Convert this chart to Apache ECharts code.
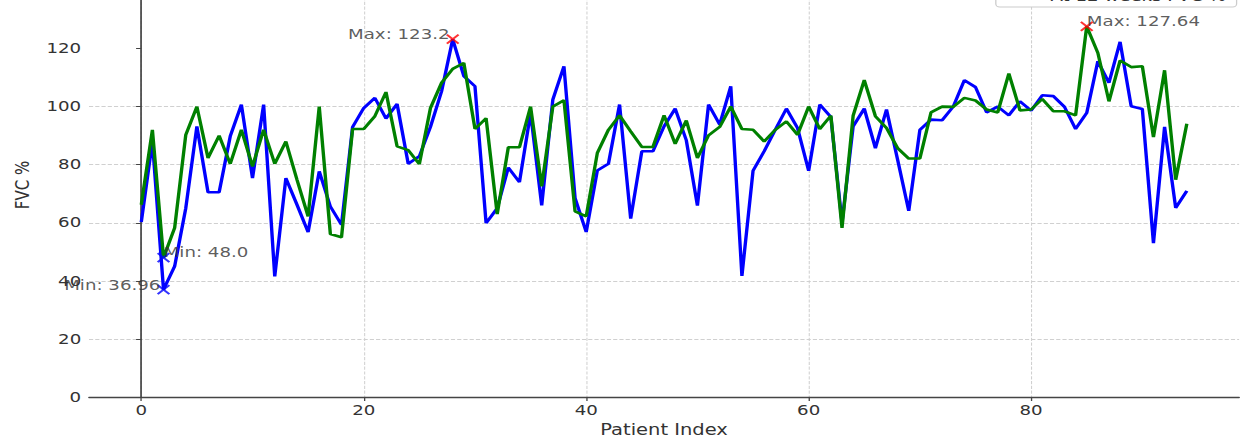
<!DOCTYPE html>
<html>
<head>
<meta charset="utf-8">
<title>FVC % by patient</title>
<script src="https://cdn.jsdelivr.net/npm/echarts@6/dist/echarts.min.js"></script>
<style>
  html, body { margin: 0; padding: 0; background: #fff; overflow: hidden; }
  #chart { height: 437px; transform-origin: 0 0; }
</style>
</head>
<body>
<div id="chart"></div>
<script>
// Series names
const blueName = 'Baseline FVC %';
const greenName = 'At 12 weeks FVC %';

// FVC % per patient (index 0..94)
const baselineFvc = [
  60.2, 88, 36.96, 45, 65, 93.2, 70.5, 70.5, 89.8, 100.7,
  75.4, 100.7, 41.5, 75.4, 66.2, 56.8, 77.7, 65.6, 59.3, 93,
  99.5, 103, 95.9, 100.9, 80.3, 82.9, 93, 105.3, 123.2, 110.5,
  107, 59.9, 65, 79, 74, 97.8, 66, 102.4, 113.9, 68.5,
  56.8, 78, 80.3, 100.7, 61.4, 84.6, 84.6, 93.2, 99.3, 88.4,
  65.9, 100.7, 93.8, 107, 41.7, 77.9, 84.6, 92, 99.3, 92.6,
  77.9, 100.7, 96.4, 60, 93.2, 99.3, 85.7, 99, 81.7, 64.1,
  92, 95.5, 95.3, 100, 109.1, 106.7, 98, 100, 97, 101.8,
  98.6, 103.9, 103.6, 99.9, 92.3, 97.8, 115.6, 108.2, 122.3, 100.1,
  99.2, 53, 93, 65.1, 71
];
const week12Fvc = [
  66.2, 92, 48.0, 58.2, 90.3, 100, 82.3, 90, 80.3, 92,
  79.4, 92, 80.3, 88, 74.8, 62.2, 100, 56.1, 55, 92.3,
  92.3, 96.7, 105, 86.3, 85, 80.2, 99.5, 108.2, 113, 115,
  92.3, 96, 63, 86, 86, 100, 72.5, 100, 102.2, 63.9,
  62.2, 84, 92, 97, 91.5, 86.1, 86.1, 97, 87.2, 95.2,
  82.3, 90.1, 93, 100, 92.3, 92, 88, 92, 94.9, 90.3,
  100, 92.3, 96.9, 58.2, 96.9, 109.1, 96.7, 92.6, 85.7, 82.1,
  82.1, 98, 100, 99.9, 103, 102.1, 99, 98, 111.4, 98.7,
  99, 102.6, 98.4, 98.4, 97, 127.64, 118.5, 101.8, 115.9, 113.6,
  113.9, 89.5, 112.5, 74.8, 94.1
];

// Axis ticks
const xTicks = [0, 20, 40, 60, 80];
const yTicks = [0, 20, 40, 60, 80, 100, 120];

// The figure is drawn narrower and widened horizontally
const S = 1.3;
const W = 1251 / S;
const hx = px => px / S;

const el = document.getElementById('chart');
el.style.width = W + 'px';
el.style.transform = 'scaleX(' + S + ')';

const toPairs = arr => arr.map((v, i) => [i, v]);
const fmt = v => Number.isInteger(v) ? v.toFixed(1) : String(v);
const argOf = (arr, pick) => arr.indexOf(pick(...arr));

const bMax = argOf(baselineFvc, Math.max);
const bMin = argOf(baselineFvc, Math.min);
const gMax = argOf(week12Fvc, Math.max);
const gMin = argOf(week12Fvc, Math.min);

const MS = 9;        // marker size
const C = MS / 2;    // marker centre inside its box
const textStyle = { fontFamily: 'DejaVu Sans', fontSize: 14, color: '#333' };

function extremum(i, v, kind, side) {
  return {
    value: [i, v],
    label: {
      show: true,
      formatter: kind + ': ' + fmt(v),
      position: side === 'right' ? [C - 1.5, C - 4] : [C + 1, C - 4],
      align: side,
      verticalAlign: 'middle',
      ...textStyle
    }
  };
}

const xSymbol = 'path://M0,0L10,10M10,0L0,10';

const chart = echarts.init(el, null, { renderer: 'svg' });
chart.setOption({
  animation: false,
  backgroundColor: '#fff',
  textStyle: { fontFamily: 'DejaVu Sans' },
  grid: {
    left: hx(89), right: hx(11.5), top: -27, bottom: 40,
    containLabel: false,
    outerBoundsMode: 'none'
  },
  legend: {
    data: [blueName, greenName],
    orient: 'vertical',
    right: hx(14),
    top: -35,
    padding: [4, 8],
    itemGap: 6,
    itemWidth: 28,
    itemHeight: 14,
    itemStyle: { opacity: 0 },
    borderColor: '#cccccc',
    borderWidth: 1,
    borderRadius: 3,
    backgroundColor: '#fff',
    textStyle: { ...textStyle }
  },
  xAxis: {
    type: 'value',
    min: -4.7,
    max: 98.7,
    name: 'Patient Index',
    nameLocation: 'middle',
    nameGap: 19,
    nameTextStyle: { ...textStyle, fontSize: 15 },
    axisLine: { show: true, onZero: false, lineStyle: { color: '#444', width: 1.3 } },
    axisTick: { show: true, customValues: xTicks, length: 4, lineStyle: { color: '#444' } },
    axisLabel: { customValues: xTicks, margin: 6, ...textStyle },
    splitLine: { show: true, lineStyle: { type: 'dashed', color: '#d0d0d0', width: 0.8 } }
  },
  yAxis: {
    type: 'value',
    min: 0,
    max: 146,
    interval: 20,
    name: 'FVC %',
    nameLocation: 'middle',
    nameGap: 44,
    nameTextStyle: { ...textStyle, fontSize: 15 },
    axisLine: { show: true, lineStyle: { color: '#444', width: 1.3 } },
    axisTick: { show: true, customValues: yTicks, length: 4, lineStyle: { color: '#444' } },
    axisLabel: { customValues: yTicks, margin: 6, ...textStyle },
    splitLine: { show: true, showMaxLine: false, lineStyle: { type: 'dashed', color: '#d0d0d0', width: 0.8 } }
  },
  series: [
    {
      name: blueName,
      type: 'line',
      data: toPairs(baselineFvc),
      symbol: 'none',
      lineStyle: { color: '#0000ff', width: 2.6 },
      itemStyle: { color: '#0000ff' },
      z: 2
    },
    {
      name: greenName,
      type: 'line',
      data: toPairs(week12Fvc),
      symbol: 'none',
      lineStyle: { color: '#008000', width: 2.6 },
      itemStyle: { color: '#008000' },
      z: 3
    },
    {
      name: 'max',
      type: 'scatter',
      symbol: xSymbol,
      symbolSize: MS,
      itemStyle: { color: 'rgba(0,0,0,0)', borderColor: '#ff0000', borderWidth: 1.8 },
      data: [
        extremum(bMax, baselineFvc[bMax], 'Max', 'right'),
        extremum(gMax, week12Fvc[gMax], 'Max', 'left')
      ],
      z: 5
    },
    {
      name: 'min',
      type: 'scatter',
      symbol: xSymbol,
      symbolSize: MS,
      itemStyle: { color: 'rgba(0,0,0,0)', borderColor: '#0000ff', borderWidth: 1.8 },
      data: [
        extremum(bMin, baselineFvc[bMin], 'Min', 'right'),
        extremum(gMin, week12Fvc[gMin], 'Min', 'left')
      ],
      z: 5
    }
  ]
});
</script>
</body>
</html>
